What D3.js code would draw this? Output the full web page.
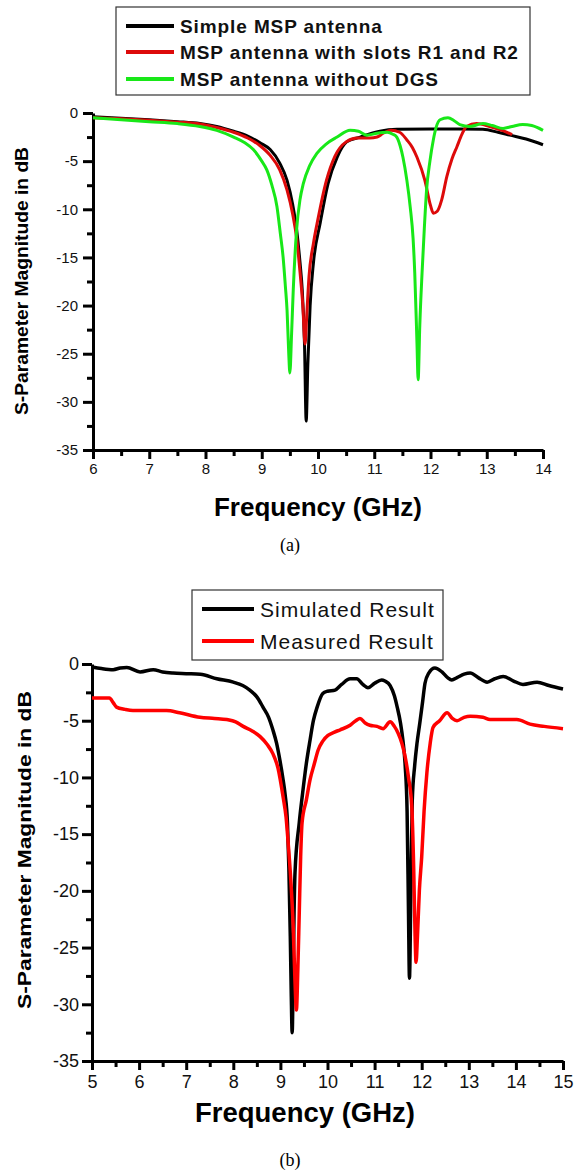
<!DOCTYPE html>
<html>
<head>
<meta charset="utf-8">
<script src="https://cdn.jsdelivr.net/npm/d3@7/dist/d3.min.js"></script>
<style>
  body { margin: 0; background: #fff; }
  svg { display: block; }
</style>
</head>
<body>
<div id="chart"></div>
<script>
// ---- data: [frequency GHz, S11 dB] ----

// panel (a)
const simpleMsp = [[6,-0.4],[6.5,-0.55],[7,-0.7],[7.5,-0.9],[7.9,-1.1],[8.2,-1.4],[8.5,-1.9],[8.75,-2.4],[8.97,-3.1],[9.15,-3.8],[9.32,-5.2],[9.45,-7],[9.55,-9.5],[9.62,-12.1],[9.68,-15.5],[9.72,-18.4],[9.76,-24],[9.79,-32],[9.82,-26],[9.86,-20],[9.92,-15.5],[10.04,-11.4],[10.18,-7.3],[10.34,-4.6],[10.51,-3.0],[10.75,-2.5],[11.1,-1.9],[11.4,-1.7],[12,-1.65],[12.5,-1.65],[12.93,-1.7],[13.2,-2.0],[13.41,-2.3],[13.7,-2.7],[14,-3.3]];
const withSlots = [[6,-0.5],[6.5,-0.6],[7,-0.75],[7.5,-0.95],[7.9,-1.15],[8.2,-1.5],[8.5,-2.0],[8.75,-2.6],[8.97,-3.4],[9.15,-4.4],[9.32,-5.9],[9.45,-8],[9.55,-10.5],[9.62,-13],[9.68,-16.5],[9.73,-20],[9.77,-24],[9.8,-21],[9.84,-17],[9.92,-13.5],[10.0,-11],[10.15,-7],[10.3,-4.5],[10.5,-3.0],[10.7,-2.6],[10.92,-2.6],[11.05,-2.5],[11.16,-2.1],[11.3,-1.8],[11.45,-2.0],[11.58,-2.8],[11.68,-3.6],[11.76,-4.6],[11.9,-7],[12.0,-9.6],[12.05,-10.4],[12.12,-10.2],[12.2,-9.0],[12.29,-6.6],[12.38,-4.8],[12.47,-3.5],[12.56,-2.2],[12.64,-1.4],[12.82,-1.1],[13.05,-1.4],[13.36,-2.0],[13.45,-2.25]];
const withoutDgs = [[6,-0.5],[6.5,-0.7],[7,-0.9],[7.5,-1.1],[7.9,-1.4],[8.2,-1.8],[8.5,-2.5],[8.7,-3.1],[8.85,-3.8],[9.0,-5.0],[9.09,-5.9],[9.18,-7.5],[9.27,-9.7],[9.33,-12.5],[9.38,-15],[9.42,-18],[9.45,-20.5],[9.48,-25],[9.5,-27],[9.53,-23],[9.56,-18.4],[9.62,-12.1],[9.68,-9],[9.74,-7.3],[9.85,-5.5],[9.98,-4.2],[10.15,-3.2],[10.34,-2.5],[10.57,-1.8],[10.72,-1.9],[10.87,-2.3],[11.05,-2.1],[11.23,-2.0],[11.33,-2.2],[11.4,-2.5],[11.46,-3.4],[11.51,-4.6],[11.58,-7],[11.64,-9.8],[11.69,-13],[11.72,-16.6],[11.76,-24],[11.78,-27.7],[11.81,-22],[11.85,-16.6],[11.89,-12],[11.93,-8],[11.99,-5],[12.05,-2.8],[12.1,-1.5],[12.17,-0.7],[12.31,-0.5],[12.42,-0.8],[12.52,-1.2],[12.7,-1.4],[12.93,-1.1],[13.1,-1.3],[13.29,-1.6],[13.45,-1.4],[13.64,-1.2],[13.8,-1.3],[14,-1.8]];

// panel (b)
const simulated = [[5,-0.26],[5.2,-0.4],[5.45,-0.5],[5.6,-0.35],[5.74,-0.3],[6.02,-0.7],[6.3,-0.5],[6.5,-0.7],[6.72,-0.8],[7.0,-0.85],[7.3,-0.9],[7.65,-1.3],[8.0,-1.6],[8.2,-1.9],[8.35,-2.3],[8.5,-2.9],[8.63,-3.8],[8.75,-4.7],[8.84,-5.8],[8.92,-7],[8.99,-8.5],[9.05,-10],[9.1,-11.5],[9.15,-14],[9.18,-18],[9.21,-24],[9.23,-29],[9.25,-32.5],[9.27,-28],[9.29,-22],[9.31,-18.4],[9.4,-14],[9.48,-11.1],[9.55,-8.8],[9.63,-6.7],[9.7,-5.0],[9.78,-3.8],[9.9,-2.6],[10.0,-2.4],[10.16,-2.3],[10.3,-1.8],[10.48,-1.3],[10.62,-1.3],[10.75,-1.8],[10.86,-2.1],[11.0,-1.7],[11.15,-1.4],[11.22,-1.5],[11.33,-1.9],[11.42,-2.8],[11.48,-3.8],[11.55,-5.2],[11.6,-6.7],[11.65,-9],[11.69,-13],[11.72,-22],[11.74,-27.7],[11.77,-20],[11.8,-12],[11.85,-9],[11.9,-7],[11.96,-5.2],[12.02,-3.3],[12.07,-1.7],[12.15,-0.8],[12.28,-0.35],[12.43,-0.7],[12.55,-1.2],[12.64,-1.4],[12.75,-1.2],[12.9,-0.9],[13.03,-0.8],[13.2,-1.2],[13.39,-1.6],[13.55,-1.3],[13.73,-1.1],[13.95,-1.5],[14.15,-1.8],[14.45,-1.6],[14.7,-1.9],[15,-2.2]];
const measured = [[5,-3.0],[5.37,-3.0],[5.45,-3.4],[5.52,-3.8],[5.7,-4.0],[5.87,-4.1],[6.2,-4.1],[6.58,-4.1],[6.86,-4.3],[7.29,-4.7],[7.6,-4.8],[7.86,-4.9],[8.05,-5.1],[8.21,-5.5],[8.4,-5.9],[8.57,-6.4],[8.72,-7.1],[8.84,-7.9],[8.95,-9.2],[9.06,-11.8],[9.12,-13.5],[9.16,-15.5],[9.22,-19],[9.27,-23],[9.31,-28],[9.34,-30.5],[9.37,-27],[9.4,-22],[9.43,-17],[9.46,-14],[9.55,-12],[9.63,-10.2],[9.72,-8.8],[9.8,-7.6],[9.9,-6.8],[10.01,-6.3],[10.15,-6.0],[10.27,-5.8],[10.48,-5.4],[10.6,-5.0],[10.69,-4.8],[10.8,-5.2],[10.9,-5.4],[11.05,-5.5],[11.18,-5.7],[11.33,-5.1],[11.42,-5.5],[11.5,-6.1],[11.58,-7],[11.65,-8.2],[11.72,-10],[11.79,-12.6],[11.83,-18],[11.86,-24],[11.88,-26.3],[11.91,-24],[11.95,-20],[12.0,-17],[12.05,-13],[12.11,-9.6],[12.18,-7],[12.24,-5.6],[12.38,-5.0],[12.54,-4.3],[12.65,-4.8],[12.75,-5.0],[12.9,-4.7],[13.03,-4.6],[13.3,-4.7],[13.45,-4.9],[13.7,-4.9],[14.02,-4.9],[14.3,-5.3],[14.6,-5.5],[15,-5.7]];

const legendA = ["Simple MSP antenna", "MSP antenna with slots R1 and R2", "MSP antenna without DGS"];
const legendB = ["Simulated Result", "Measured Result"];
const yTicks = [0, -5, -10, -15, -20, -25, -30, -35];
const xTicksA = [6, 7, 8, 9, 10, 11, 12, 13, 14];
const xTicksB = [5, 6, 7, 8, 9, 10, 11, 12, 13, 14, 15];

const width = 575, height = 1171;
const svg = d3.select("#chart").append("svg")
  .attr("width", width).attr("height", height);

const sans = "'Liberation Sans', Arial, sans-serif";

// draws one panel: axes, curves, titles
function drawPanel(p) {
  const x = d3.scaleLinear().domain(p.xDomain).range([p.left, p.right]);
  const y = d3.scaleLinear().domain([0, -35]).range([p.top, p.bottom]);
  const g = svg.append("g");

  // minor ticks
  const xMinor = d3.range(p.xDomain[0] + 0.5, p.xDomain[1], 1);
  const yMinor = d3.range(-2.5, -35, -5);
  g.append("g").attr("transform", `translate(0,${p.bottom})`)
    .call(d3.axisBottom(x).tickValues(xMinor).tickSize(6).tickFormat(""))
    .call(a => a.select(".domain").remove());
  g.append("g").attr("transform", `translate(${p.left},0)`)
    .call(d3.axisLeft(y).tickValues(yMinor).tickSize(6).tickFormat(""))
    .call(a => a.select(".domain").remove());

  // major ticks + labels
  const xa = g.append("g").attr("transform", `translate(0,${p.bottom})`)
    .call(d3.axisBottom(x).tickValues(p.xTicks).tickSize(9).tickSizeOuter(0)
      .tickPadding(p.xPad).tickFormat(d => String(d)));
  const ya = g.append("g").attr("transform", `translate(${p.left},0)`)
    .call(d3.axisLeft(y).tickValues(yTicks).tickSize(10).tickSizeOuter(0)
      .tickPadding(p.yPad).tickFormat(d => String(d)));

  [xa, ya].forEach(a => {
    a.attr("font-size", null);
    a.selectAll("text").style("font-family", sans).style("font-size", p.tickFont + "px").attr("fill", "#111");
    a.select(".domain").style("stroke-width", "3px").attr("stroke", "#000");
  });
  g.selectAll(".tick line").style("stroke-width", "3px").attr("stroke", "#000");

  // curves
  const line = d3.line().x(d => x(d[0])).y(d => y(d[1])).curve(d3.curveMonotoneX);
  p.series.forEach(s => {
    g.append("path").datum(s.data)
      .attr("d", line)
      .attr("fill", "none")
      .attr("stroke", s.color)
      .attr("stroke-width", p.lineWidth)
      .attr("stroke-linejoin", "round");
  });

  // axis titles
  g.append("text")
    .attr("x", p.xTitle[0]).attr("y", p.xTitle[1])
    .attr("text-anchor", "middle")
    .style("font-family", sans).style("font-weight", "bold")
    .style("font-size", p.xTitleFont + "px")
    .text("Frequency (GHz)");
  g.append("text")
    .attr("transform", `translate(${p.yTitle[0]},${p.yTitle[1]}) rotate(-90)`)
    .attr("text-anchor", "middle")
    .attr("textLength", p.yTitleLen).attr("lengthAdjust", "spacingAndGlyphs")
    .style("font-family", sans).style("font-weight", "bold")
    .style("font-size", "18px")
    .text("S-Parameter Magnitude in dB");
  g.append("text")
    .attr("x", 290).attr("y", p.caption)
    .attr("text-anchor", "middle")
    .style("font-family", "'Liberation Serif', 'Times New Roman', serif")
    .style("font-size", "18px")
    .text(p.label);

  // legend
  const L = p.legend;
  g.append("rect")
    .attr("x", L.x).attr("y", L.y).attr("width", L.w).attr("height", L.h)
    .attr("fill", "#fff").attr("stroke", "#333").attr("stroke-width", 1.2);
  L.names.forEach((name, i) => {
    const cy = L.rows[i];
    g.append("line")
      .attr("x1", L.x + 10).attr("x2", L.x + 10 + L.sample)
      .attr("y1", cy).attr("y2", cy)
      .attr("stroke", p.series[i].color).attr("stroke-width", 4);
    g.append("text")
      .attr("x", L.x + 10 + L.sample + 6).attr("y", cy)
      .attr("dy", "0.36em")
      .style("font-family", sans).style("font-weight", L.weight)
      .style("font-size", L.font + "px")
      .style("letter-spacing", L.spacing + "px")
      .attr("fill", "#111")
      .text(name);
  });
}

drawPanel({
  xDomain: [6, 14], xTicks: xTicksA,
  left: 93, right: 543, top: 113, bottom: 450,
  tickFont: 15, xPad: 4, yPad: 5, lineWidth: 3,
  series: [
    { data: simpleMsp, color: "#000" },
    { data: withSlots, color: "#dd0a0a" },
    { data: withoutDgs, color: "#18e818" }
  ],
  xTitle: [318, 516], xTitleFont: 26,
  yTitle: [28, 281], yTitleLen: 268,
  caption: 551, label: "(a)",
  legend: { x: 116, y: 7, w: 414, h: 88, sample: 48, rows: [26, 52, 79],
            names: legendA, font: 19, weight: "bold", spacing: 0.9 }
});

drawPanel({
  xDomain: [5, 15], xTicks: xTicksB,
  left: 92, right: 563, top: 664, bottom: 1061,
  tickFont: 18, xPad: 5, yPad: 3, lineWidth: 3.5,
  series: [
    { data: simulated, color: "#000" },
    { data: measured, color: "#ff0000" }
  ],
  xTitle: [305, 1122], xTitleFont: 27.5,
  yTitle: [31, 850], yTitleLen: 318,
  caption: 1166, label: "(b)",
  legend: { x: 192, y: 590, w: 251, h: 70, sample: 52, rows: [609, 641],
            names: legendB, font: 21, weight: "normal", spacing: 1 }
});
</script>
</body>
</html>
